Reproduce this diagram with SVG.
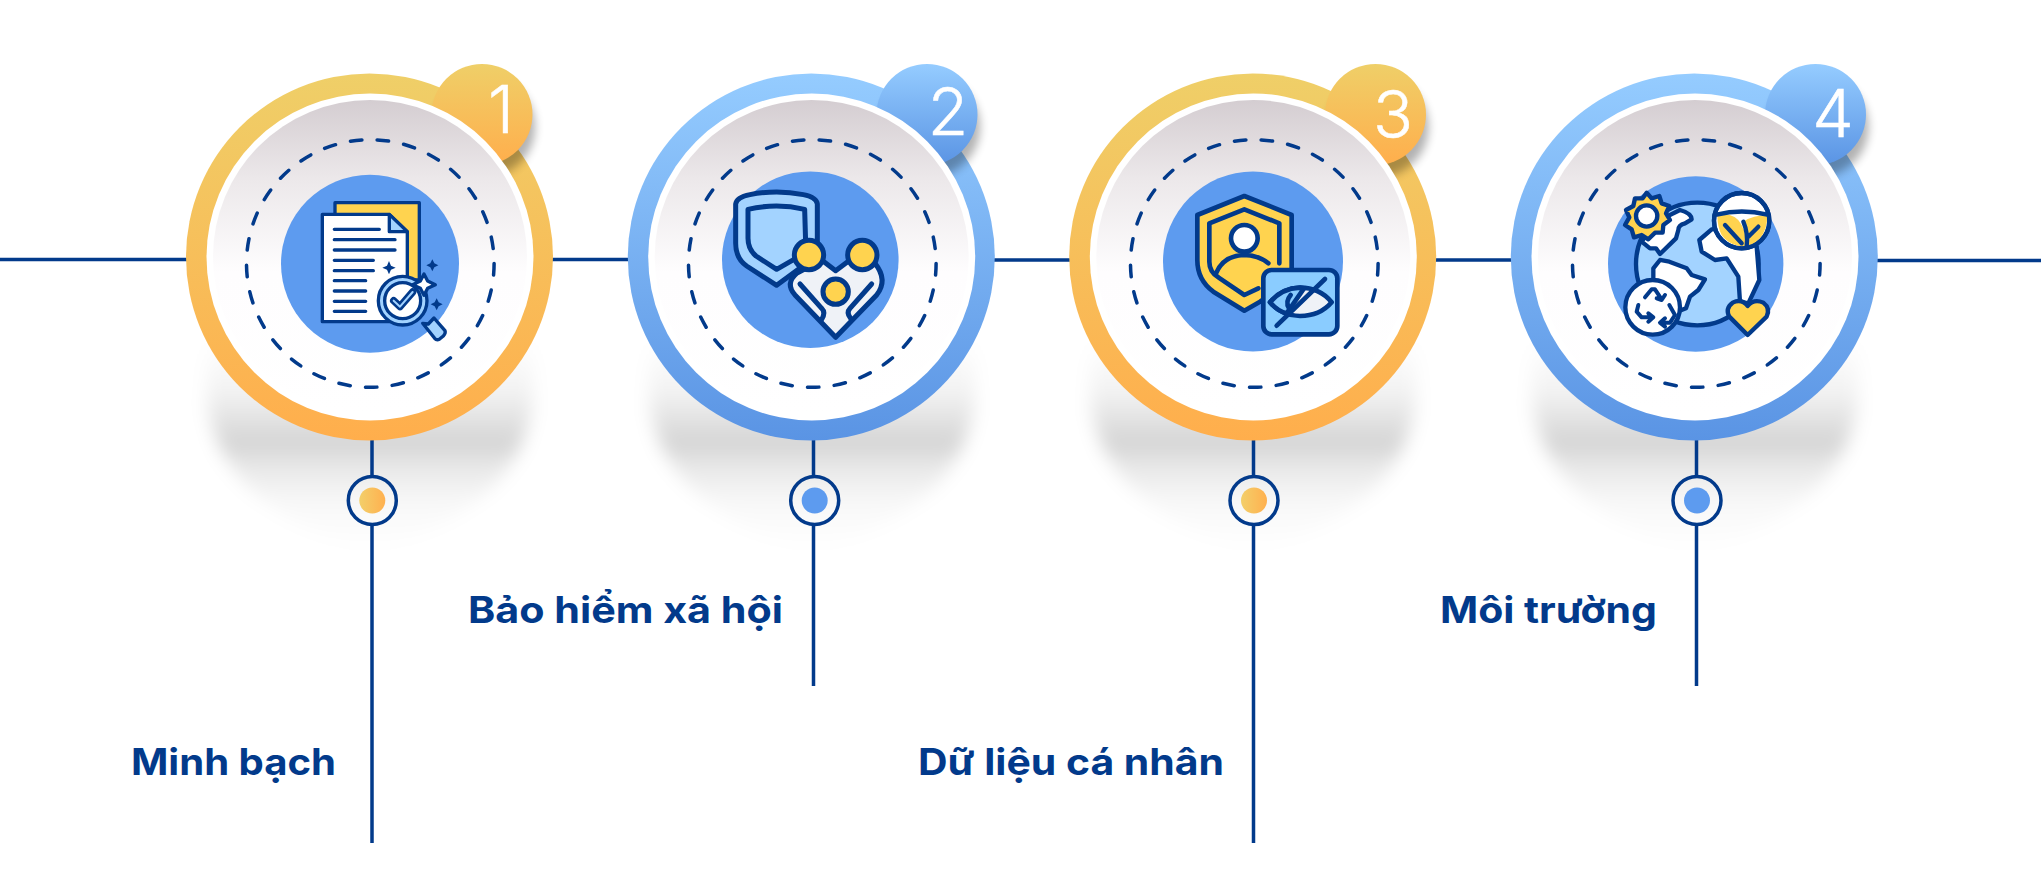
<svg xmlns="http://www.w3.org/2000/svg" width="2041" height="878" viewBox="0 0 2041 878">
<style>
.ln{stroke:#023a8b;stroke-width:3.5;fill:none}
.dash{fill:none;stroke:#023a8b;stroke-width:3.5;stroke-linecap:round;stroke-dasharray:11.5 15.32}
.blue{fill:#5d9bef}
.lab{font-family:"Inter","Liberation Sans",sans-serif;font-weight:650;font-size:37px;fill:#023a8b}
.num{font-family:"Inter","Liberation Sans",sans-serif;font-weight:300;font-size:66px;fill:#fff;stroke:#fff;stroke-width:.5;text-anchor:middle}
.ic{stroke:#023a8b;stroke-linecap:round;stroke-linejoin:round;fill:none}
.y{fill:#ffd34f}.lb{fill:#a3d3ff}.w{fill:#fff}.g{fill:#eff2f7}.n{fill:#023a8b;stroke:none}
</style>
<defs>
<linearGradient id="gy" x1="0" y1="0" x2="0" y2="1"><stop offset="0" stop-color="#efcf68"/><stop offset="1" stop-color="#ffae4c"/></linearGradient>
<linearGradient id="gb" x1="0" y1="0" x2="0" y2="1"><stop offset="0" stop-color="#95ccff"/><stop offset="1" stop-color="#5a94e4"/></linearGradient>
<linearGradient id="gi" x1="0" y1="0" x2="0" y2="1"><stop offset="0" stop-color="#d4cdd1"/><stop offset=".25" stop-color="#ece8ea"/><stop offset=".55" stop-color="#fefdfe"/><stop offset="1" stop-color="#fff"/></linearGradient>
<linearGradient id="dy"><stop offset="0" stop-color="#f3cf6a"/><stop offset="1" stop-color="#ffb04f"/></linearGradient>
<linearGradient id="gs" gradientUnits="userSpaceOnUse" x1="0" y1="340" x2="0" y2="550">
<stop offset="0" stop-color="#000" stop-opacity="0"/><stop offset=".25" stop-color="#000" stop-opacity=".05"/><stop offset=".5" stop-color="#000" stop-opacity=".17"/><stop offset=".58" stop-color="#000" stop-opacity=".1"/><stop offset=".76" stop-color="#000" stop-opacity=".03"/><stop offset="1" stop-color="#000" stop-opacity="0"/></linearGradient>
<filter id="sh" x="-15%" y="-15%" width="130%" height="130%"><feGaussianBlur stdDeviation="9"/></filter>
<filter id="bs" x="-40%" y="-40%" width="180%" height="180%"><feGaussianBlur stdDeviation="5"/></filter>
<path id="sp" d="M-163 340V400Q-150 510 0 552Q150 510 163 400V340Z" fill="url(#gs)" filter="url(#sh)"/>
</defs>
<rect width="2041" height="878" fill="#fff"/>

<g id="shadows">
<use href="#sp" x="370"/>
<use href="#sp" x="812"/>
<use href="#sp" x="1253"/>
<use href="#sp" x="1695"/>
</g>

<g id="connectors">
<path class="ln" d="M0 259.500H190M550 259.500H632M990 260H1072M1432 260H1515M1873 260.500H2041"/>
<path class="ln" d="M372 436V476.500M372 524.500V843"/>
<path class="ln" d="M813.500 436V476.500M813.500 524.500V686"/>
<path class="ln" d="M1253.500 436V476.500M1253.500 524.500V843"/>
<path class="ln" d="M1696.500 436V476.500M1696.500 524.500V686"/>
</g>

<g id="node-1">
<circle cx="369.500" cy="257" r="183.500" fill="url(#gy)"/>
<circle cx="485" cy="127" r="50" fill="#000" opacity=".3" filter="url(#bs)"/>
<circle cx="482" cy="114.500" r="50.500" fill="url(#gy)"/>
<circle cx="370" cy="257" r="163.500" class="w"/>
<circle cx="370" cy="257" r="157" fill="url(#gi)"/>
<circle class="dash" cx="370.300" cy="263.500" r="123.800"/>
<circle class="blue" cx="370" cy="263.700" r="89"/>
<text class="num" x="501" y="133">1</text>
<g class="ic" transform="translate(300 180) scale(.3333)" stroke-width="10">
<path class="y" d="M105 105V68H358V300H105Z"/>
<path class="w" d="M67 103H268L322 155V425H67Z"/>
<path class="lb" d="M268 103L322 155H268Z"/>
<path d="M103 148H238M103 179H285M103 210H285M103 241H220M103 272H220M103 302H197M103 333H197M103 364H197M103 394H197"/>
<path class="n" d="M267 243L273 257L287 263L273 269L267 283L261 269L247 263L261 257ZM397 238L403 250L415 256L403 262L397 274L391 262L379 256L391 250ZM410 355L416 367L428 373L416 379L410 391L404 379L392 373L404 367Z"/>
<circle cx="308" cy="362" r="73" class="lb"/>
<circle cx="308" cy="362" r="54" class="w"/>
<circle cx="308" cy="362" r="63" style="stroke:#a3d3ff" stroke-width="4"/>
<path d="M281 362L300 380L338 336" stroke-width="22"/>
<path d="M281 362L300 380L338 336" stroke="#a3d3ff" stroke-width="6"/>
<path class="w" d="M372 282L383 303L406 314L383 325L372 346L361 325L338 314L361 303Z"/>
<path class="lb" d="M385 432L402 414L435 452Q438 460 430 468L418 478Q410 482 404 475L368 430Z"/>
</g>
</g>

<g id="node-2">
<circle cx="811.300" cy="257" r="183.500" fill="url(#gb)"/>
<circle cx="930" cy="127" r="50" fill="#000" opacity=".3" filter="url(#bs)"/>
<circle cx="927" cy="114.500" r="50.500" fill="url(#gb)"/>
<circle cx="811.700" cy="257" r="163.500" class="w"/>
<circle cx="811.700" cy="257" r="157" fill="url(#gi)"/>
<circle class="dash" cx="812.300" cy="263.500" r="123.800"/>
<circle class="blue" cx="810.300" cy="259.700" r="88.300"/>
<text class="num" x="948" y="135">2</text>
<g class="ic" transform="translate(720 180) scale(.3333)" stroke-width="15">
<path class="lb" d="M47 72Q50 52 90 44Q170 28 250 44Q290 52 292 72L292 190Q292 225 262 248L170 316L80 258Q47 235 47 190Z"/>
<path d="M226 236L170 268L108 228Q84 208 84 175V88Q170 68 254 88L257 190"/>
<path class="g" d="M230 280L305 240L347 272L390 240L465 250Q505 300 470 345L347 472L225 345Q195 310 230 280Z"/>
<path d="M240 312L305 385Q318 398 305 418M455 312L390 385Q378 398 392 415"/>
<circle cx="267" cy="225" r="44" class="y"/>
<circle cx="427" cy="225" r="44" class="y"/>
<circle cx="347" cy="335" r="38" class="y"/>
</g>
</g>

<g id="node-3">
<circle cx="1252.700" cy="257" r="183.500" fill="url(#gy)"/>
<circle cx="1378.500" cy="127" r="50" fill="#000" opacity=".3" filter="url(#bs)"/>
<circle cx="1375.500" cy="114.500" r="50.500" fill="url(#gy)"/>
<circle cx="1253.300" cy="257" r="163.500" class="w"/>
<circle cx="1253.300" cy="257" r="157" fill="url(#gi)"/>
<circle class="dash" cx="1254.300" cy="263.500" r="123.800"/>
<circle class="blue" cx="1253" cy="261.500" r="90"/>
<text class="num" x="1393" y="138">3</text>
<g class="ic" transform="translate(1180 180) scale(.3333)" stroke-width="14">
<path class="y" d="M193 48L335 105V300L240 365L193 392L100 335Q52 300 52 240V105Z"/>
<path d="M298 250V130L193 88L88 130V245Q88 275 115 292L193 345L235 325"/>
<circle cx="193" cy="175" r="40" class="w"/>
<path d="M108 280Q130 228 190 225Q235 225 265 250"/>
<rect x="250" y="270" width="222" height="193" rx="25" style="fill:#8accff"/>
<path class="g" d="M270 367Q305 325 360 323Q420 323 455 367Q420 408 360 408Q305 408 270 367Z"/>
<path d="M270 367Q305 325 360 323L372 325L320 400Q295 395 270 367Z" style="fill:#8accff"/>
<path d="M332 345Q315 365 327 385"/>
<path d="M290 437L435 297"/>
</g>
</g>

<g id="node-4">
<circle cx="1694.300" cy="257" r="183.500" fill="url(#gb)"/>
<circle cx="1818.500" cy="127" r="50" fill="#000" opacity=".3" filter="url(#bs)"/>
<circle cx="1815.500" cy="114.500" r="50.500" fill="url(#gb)"/>
<circle cx="1695" cy="257" r="163.500" class="w"/>
<circle cx="1695" cy="257" r="157" fill="url(#gi)"/>
<circle class="dash" cx="1696.300" cy="263.500" r="123.800"/>
<circle class="blue" cx="1695.700" cy="264" r="87.700"/>
<text class="num" x="1833" y="137">4</text>
<g class="ic" transform="translate(1610 180) scale(.3333)" stroke-width="13">
<circle cx="262" cy="252" r="184" class="lb"/>
<path class="w" d="M170 110L210 90Q245 100 245 118L225 130Q205 135 205 150L198 175L150 222L138 205L120 205L95 185L112 160L150 130Z"/>
<path class="w" d="M130 265L150 240L178 245L230 265L245 285L285 298L265 330L240 350L228 385L190 400L130 320Z"/>
<path class="w" d="M305 148L268 180L275 215L315 240L350 235L385 290L390 365L415 370L448 300L440 200L380 140Z"/>
<path class="y" d="M110 38L125 55L148 48L155 70L178 78L168 100L180 120L160 135L158 158L135 158L115 178L95 165L72 172L65 148L45 135L58 112L48 90L70 78L75 55L98 55Z"/>
<circle cx="110" cy="108" r="32" class="w"/>
<circle cx="395" cy="122" r="83" class="w"/>
<path class="y" d="M322 105Q375 95 395 135Q410 165 410 200Q360 200 335 165Q322 140 322 105Z" stroke="none" style="stroke:none"/>
<path class="y" d="M400 125Q430 105 472 105Q472 150 450 175Q430 195 412 200Q415 160 400 125Z" style="stroke:none"/>
<path d="M320 104Q395 85 472 104"/>
<path d="M345 135L395 190M445 140L415 170M410 200Q415 160 400 125"/>
<circle cx="395" cy="122" r="83"/>
<circle cx="128" cy="382" r="82" class="w"/>
<path stroke-width="12" d="M105 352L125 328H135L155 358M165 345L155 360L140 355M85 375L80 395L95 412H125M115 400L130 412L115 425M178 375L195 405L180 428H155M165 415L150 428L165 440"/>
<path class="y" d="M413 465L358 410Q345 385 368 368Q395 355 413 378Q432 355 460 368Q482 385 470 410Z"/>
</g>
</g>

<g id="dots">
<circle class="ln" cx="372.300" cy="500.500" r="24"/><circle cx="372.300" cy="500.500" r="13" fill="url(#dy)"/>
<circle class="ln" cx="814.700" cy="500.500" r="24"/><circle class="blue" cx="814.700" cy="500.500" r="13"/>
<circle class="ln" cx="1254" cy="500.500" r="24"/><circle cx="1254" cy="500.500" r="13" fill="url(#dy)"/>
<circle class="ln" cx="1697" cy="500.500" r="24"/><circle class="blue" cx="1697" cy="500.500" r="13"/>
</g>

<g id="labels">
<text class="lab" x="131" y="775" textLength="205" lengthAdjust="spacingAndGlyphs">Minh bạch</text>
<text class="lab" x="468" y="623" textLength="315" lengthAdjust="spacingAndGlyphs">Bảo hiểm xã hội</text>
<text class="lab" x="918" y="775" textLength="306" lengthAdjust="spacingAndGlyphs">Dữ liệu cá nhân</text>
<text class="lab" x="1440" y="623" textLength="217" lengthAdjust="spacingAndGlyphs">Môi trường</text>
</g>
</svg>
